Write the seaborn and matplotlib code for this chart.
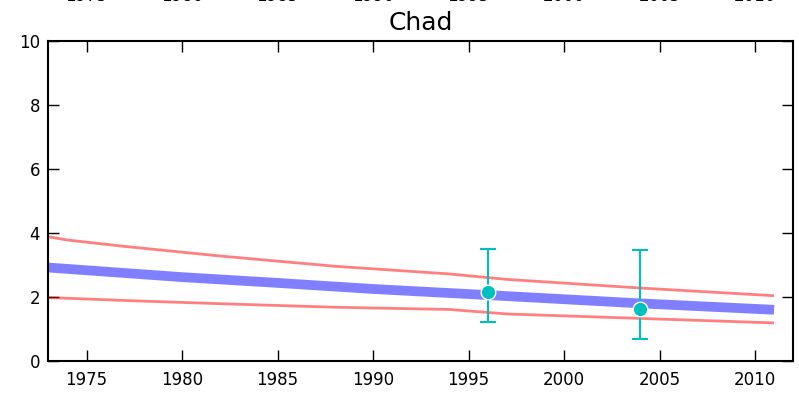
import numpy as np
import pandas as pd
import matplotlib
matplotlib.use('Agg')
import matplotlib.pyplot as plt
import seaborn as sns

# data
fit_years = [1973, 1980, 1985, 1990, 1996, 2000, 2004, 2011]
fit_vals = [2.92, 2.62, 2.44, 2.25, 2.06, 1.93, 1.80, 1.60]

band_years = [1973, 1974, 1977, 1982, 1988, 1994, 1997, 2004, 2011]
upper_vals = [3.88, 3.78, 3.58, 3.28, 2.96, 2.72, 2.55, 2.28, 2.04]
lower_vals = [1.98, 1.96, 1.89, 1.79, 1.68, 1.61, 1.47, 1.33, 1.19]

obs_years = [1996, 2004]
obs_vals = [2.16, 1.64]
obs_low = [1.22, 0.69]
obs_high = [3.51, 3.47]

sns.set_style('white')
plt.rcParams['font.family'] = ['DejaVu Sans']
plt.rcParams['text.color'] = 'black'
plt.rcParams['xtick.color'] = 'black'
plt.rcParams['ytick.color'] = 'black'

fig = plt.figure(figsize=(7.99, 3.98), dpi=100)
ax = fig.add_axes([0.0607, 0.093, 0.932, 0.804])

df_fit = pd.DataFrame({'year': fit_years, 'value': fit_vals})
df_band = pd.DataFrame({'year': band_years, 'upper': upper_vals, 'lower': lower_vals})

sns.lineplot(data=df_band, x='year', y='upper', color='red', alpha=0.5, lw=2,
             solid_capstyle='butt', ax=ax)
sns.lineplot(data=df_band, x='year', y='lower', color='red', alpha=0.5, lw=2,
             solid_capstyle='butt', ax=ax)
sns.lineplot(data=df_fit, x='year', y='value', color='blue', alpha=0.5, lw=7,
             solid_capstyle='butt', ax=ax)

yerr = [np.array(obs_vals) - np.array(obs_low), np.array(obs_high) - np.array(obs_vals)]
ax.errorbar(obs_years, obs_vals, yerr=yerr, fmt='none', ecolor='#00bfbf',
            elinewidth=1.5, capsize=6, capthick=1.5, zorder=4)
sns.scatterplot(x=obs_years, y=obs_vals, color='#00bfbf', s=110,
                edgecolor='white', linewidth=1, zorder=5, ax=ax)

ax.set_xlim(1973, 2012)
ax.set_ylim(0, 10)
ax.set_xticks([1975, 1980, 1985, 1990, 1995, 2000, 2005, 2010])
ax.set_yticks([0, 2, 4, 6, 8, 10])
ax.set_xlabel('')
ax.set_ylabel('')

for s in ax.spines.values():
    s.set_linewidth(1.5)
    s.set_color('black')

ax.tick_params(axis='both', direction='in', length=8, width=1, labelsize=12,
               labelcolor='black', top=True, right=True, bottom=True, left=True)
ax.tick_params(axis='x', pad=7, labeltop=False)
ax.tick_params(axis='y', pad=6)

# top tick labels sit far above the frame, clipped at the figure edge
sec = ax.secondary_xaxis('top')
sec.set_xticks([1975, 1980, 1985, 1990, 1995, 2000, 2005, 2010])
sec.tick_params(direction='in', length=0, pad=26, labelsize=12, labelcolor='black')
sec.spines['top'].set_visible(False)

ax.set_title('Chad', fontsize=18, y=1.035, pad=0, color='black')

fig.savefig('out.png', dpi=100)
